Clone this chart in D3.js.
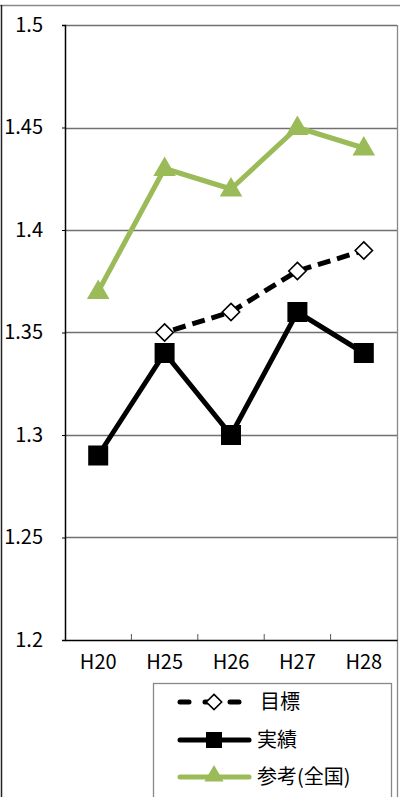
<!DOCTYPE html>
<html>
<head>
<meta charset="utf-8">
<script src="https://cdn.jsdelivr.net/npm/d3@7"></script>
<style>
  html, body { margin: 0; padding: 0; background: #fff; }
  svg text { font-family: "Noto Sans CJK JP", "Liberation Sans", sans-serif; }
</style>
</head>
<body>
<svg width="400" height="797"></svg>
<script>
// data
const categories = ['H20', 'H25', 'H26', 'H27', 'H28'];
const targetValues = [null, 1.35, 1.36, 1.38, 1.39];   // 目標
const actualValues = [1.29, 1.34, 1.30, 1.36, 1.34];   // 実績
const nationalValues = [1.37, 1.43, 1.42, 1.45, 1.44]; // 参考(全国)
const yTicks = [1.2, 1.25, 1.3, 1.35, 1.4, 1.45, 1.5];
const seriesNames = ['目標', '実績', '参考(全国)'];

const svg = d3.select('svg');
const green = '#9BBB59';

// plot area
const plotLeft = 65, plotRight = 397, plotTop = 25, plotBottom = 640;

const x = d3.scaleBand().domain(categories).range([plotLeft, plotRight]);
const y = d3.scaleLinear().domain([1.2, 1.5]).range([plotBottom, plotTop]);

// outer frame (cropped chart border)
svg.append('line').attr('x1', 0).attr('x2', 400).attr('y1', 5.5).attr('y2', 5.5)
    .attr('stroke', '#888').attr('stroke-width', 1.5);
svg.append('line').attr('x1', 1.5).attr('x2', 1.5).attr('y1', 5).attr('y2', 797)
    .attr('stroke', '#222').attr('stroke-width', 1.5);

//  grid lines
svg.append('g')
    .selectAll('line')
    .data(yTicks.slice(1))
    .join('line')
    .attr('x1', plotLeft).attr('x2', plotRight)
    .attr('y1', d => Math.round(y(d)) + 0.5).attr('y2', d => Math.round(y(d)) + 0.5)
    .attr('stroke', '#707070').attr('stroke-width', 1.3);

// right border of plot
svg.append('line').attr('x1', plotRight + 0.5).attr('x2', plotRight + 0.5).attr('y1', plotTop).attr('y2', 797)
    .attr('stroke', '#888').attr('stroke-width', 1.3);

// y axis
const yAxis = d3.axisLeft(y).tickValues(yTicks).tickSize(3).tickPadding(19)
    .tickFormat(d => d3.format('')(+d.toFixed(2)));
const gy = svg.append('g').attr('transform', `translate(${plotLeft},0)`).call(yAxis);
gy.select('.domain').attr('stroke', '#000').attr('stroke-width', 1.5);
gy.selectAll('.tick line').attr('stroke', '#000');
gy.selectAll('.tick text').attr('font-size', 20).attr('fill', '#000')
    .attr('font-family', '"Noto Sans CJK JP", sans-serif');

// x axis
const xAxis = d3.axisBottom(x).tickSize(0).tickPadding(15);
const gx = svg.append('g').attr('transform', `translate(0,${plotBottom})`).call(xAxis);
gx.select('.domain').attr('stroke', '#000').attr('stroke-width', 1.5);
gx.selectAll('.tick text').attr('font-size', 20).attr('fill', '#000')
    .attr('font-family', '"Noto Sans CJK JP", sans-serif');

//  tick marks between categories
svg.append('g')
    .selectAll('line')
    .data(categories.slice(1))
    .join('line')
    .attr('x1', d => x(d)).attr('x2', d => x(d))
    .attr('y1', plotBottom).attr('y2', plotBottom - 6)
    .attr('stroke', '#555').attr('stroke-width', 1);

const cx = d => x(d) + x.bandwidth() / 2;

function rows(values) {
    return categories.map((c, i) => ({ c, v: values[i] })).filter(d => d.v != null);
}

const line = d3.line().x(d => cx(d.c)).y(d => y(d.v));

// 参考(全国)
const natData = rows(nationalValues);
svg.append('path').attr('d', line(natData))
    .attr('fill', 'none').attr('stroke', green).attr('stroke-width', 5).attr('stroke-linejoin', 'round');
const tri = d3.symbol().type(d3.symbolTriangle).size(220);
svg.append('g').selectAll('path').data(natData).join('path')
    .attr('d', tri).attr('fill', green)
    .attr('transform', d => `translate(${cx(d.c)},${y(d.v) + 1})`);

// 目標
const tgtData = rows(targetValues);
svg.append('path').attr('d', line(tgtData))
    .attr('fill', 'none').attr('stroke', '#000').attr('stroke-width', 5)
    .attr('stroke-dasharray', '13,7').attr('stroke-dashoffset', -9);
const dia = d3.symbol().type(d3.symbolDiamond2).size(190);
svg.append('g').selectAll('path').data(tgtData).join('path')
    .attr('d', dia).attr('fill', '#fff').attr('stroke', '#000').attr('stroke-width', 1.6)
    .attr('transform', d => `translate(${cx(d.c)},${y(d.v)})`);

// 実績
const actData = rows(actualValues);
svg.append('path').attr('d', line(actData))
    .attr('fill', 'none').attr('stroke', '#000').attr('stroke-width', 5).attr('stroke-linejoin', 'miter');
svg.append('g').selectAll('rect').data(actData).join('rect')
    .attr('x', d => cx(d.c) - 10).attr('y', d => y(d.v) - 10)
    .attr('width', 20).attr('height', 20).attr('fill', '#000');

//======================================================
//  Legend
//======================================================
const legend = svg.append('g');
legend.append('rect').attr('x', 153.5).attr('y', 683.5).attr('width', 238).attr('height', 130)
    .attr('fill', '#fff').attr('stroke', '#888').attr('stroke-width', 1.3);

const rowY = [702, 740, 777];
const lx1 = 180, lx2 = 249, lm = 214;

// 目標
legend.append('line').attr('x1', lx1).attr('x2', lx2).attr('y1', rowY[0]).attr('y2', rowY[0])
    .attr('stroke', '#000').attr('stroke-width', 5).attr('stroke-linecap', 'round')
    .attr('stroke-dasharray', '9,16').attr('stroke-dashoffset', 0);
legend.append('path').attr('d', d3.symbol().type(d3.symbolDiamond2).size(150))
    .attr('fill', '#fff').attr('stroke', '#000').attr('stroke-width', 1.6)
    .attr('transform', `translate(${lm},${rowY[0]})`);

// 実績
legend.append('line').attr('x1', lx1).attr('x2', lx2).attr('y1', rowY[1]).attr('y2', rowY[1])
    .attr('stroke', '#000').attr('stroke-width', 5).attr('stroke-linecap', 'round');
legend.append('rect').attr('x', lm - 8).attr('y', rowY[1] - 8).attr('width', 16).attr('height', 16).attr('fill', '#000');

// 参考(全国)
legend.append('line').attr('x1', lx1).attr('x2', lx2).attr('y1', rowY[2]).attr('y2', rowY[2])
    .attr('stroke', green).attr('stroke-width', 5).attr('stroke-linecap', 'round');
legend.append('path').attr('d', d3.symbol().type(d3.symbolTriangle).size(160)).attr('fill', green)
    .attr('transform', `translate(${lm},${rowY[2] - 1})`);

legend.selectAll('text.lbl').data(seriesNames).join('text')
    .attr('class', 'lbl')
    .attr('x', (d, i) => i === 0 ? 260 : 257)
    .attr('y', (d, i) => rowY[i])
    .attr('dy', '0.36em')
    .attr('font-size', 20)
    .attr('fill', '#000')
    .text(d => d);
</script>
</body>
</html>
